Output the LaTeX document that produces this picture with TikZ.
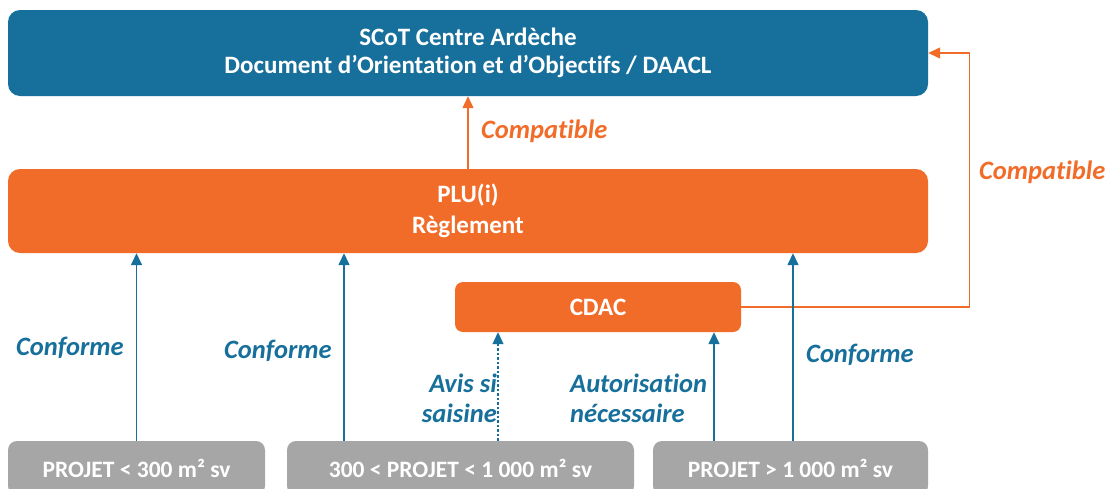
\documentclass[tikz,border=0pt]{standalone}
\usepackage{fontspec}
\setmainfont{Carlito}[Ligatures={NoCommon}]
\usetikzlibrary{arrows.meta}
\definecolor{sblue}{RGB}{23,111,155}
\definecolor{sorange}{RGB}{242,108,41}
\definecolor{sgray}{RGB}{166,166,166}
\begin{document}
\begin{tikzpicture}[x=1pt,y=-1pt,
  box/.style={text=white, font=\bfseries\fontsize{25}{28}\selectfont, align=center, inner sep=0pt},
  bluebox/.style={box, fill=sblue, rounded corners=12pt},
  orangebox/.style={box, fill=sorange, rounded corners=12pt},
  graybox/.style={box, fill=sgray, rounded corners=9pt, font=\bfseries\fontsize{23.5}{26}\selectfont},
  blab/.style={text=sblue, font=\bfseries\itshape\fontsize{26.5}{30}\selectfont, inner sep=0pt},
  olab/.style={text=sorange, font=\bfseries\itshape\fontsize{26.5}{30}\selectfont, inner sep=0pt},
  barrow/.style={draw=sblue, line width=1.5pt, -{Triangle[width=11pt,length=12pt]}, sblue},
  oarrow/.style={draw=sorange, line width=1.3pt, -{Triangle[width=11pt,length=12pt]}, sorange}
]
\clip (0,0) rectangle (1112,488);
\fill[white] (0,0) rectangle (1112,488);
\node[bluebox, minimum width=920pt, minimum height=86pt] (scot) at (468,53) {SCoT Centre Ardèche\\Document d’Orientation et d’Objectifs / DAACL};
\node[orangebox, minimum width=920pt, minimum height=84pt, font=\bfseries\fontsize{25}{31}\selectfont] (plu) at (468,211) {PLU(i)\\Règlement};
\node[orangebox, rounded corners=8pt, minimum width=286pt, minimum height=50pt] (cdac) at (598,307) {CDAC};
\node[graybox, minimum width=257pt, minimum height=54pt] (p1) at (136.5,468) {PROJET < 300 m² sv};
\node[graybox, minimum width=347pt, minimum height=54pt] (p2) at (460.5,468) {300 < PROJET < 1 000 m² sv};
\node[graybox, minimum width=275pt, minimum height=54pt] (p3) at (790.5,468) {PROJET > 1 000 m² sv};
% connectors
\draw[oarrow] (plu.north) -- (scot.south);
\draw[oarrow] (cdac.east) -- ++(228,0) |- (scot.east);
\draw[barrow] (p1.north) -- (plu.south -| p1.north);
\coordinate (c2) at (344,0);
\coordinate (c3) at (793,0);
\coordinate (c4) at (498,0);
\coordinate (c5) at (714,0);
\draw[barrow] (p2.north -| c2) -- (plu.south -| c2);
\draw[barrow] (p3.north -| c3) -- (plu.south -| c3);
\draw[barrow, dash pattern=on 2.5pt off 2pt, line width=1.1pt] (p2.north -| c4) -- (cdac.south -| c4);
\draw[barrow] (p3.north -| c5) -- (cdac.south -| c5);
% labels
\node[olab, anchor=west] (l1) at (481,131) {Compatible};
\node[olab, anchor=west] (l2) at (979,172) {Compatible};
\node[blab] (l3) at (70,348) {Conforme};
\node[blab] (l4) at (278,351) {Conforme};
\node[blab] (l5) at (860,355) {Conforme};
\node[blab, align=right, anchor=east] (l6) at (497,398) {Avis si\\saisine};
\node[blab, align=left, anchor=west] (l7) at (570,398) {Autorisation\\nécessaire};
\end{tikzpicture}
\end{document}
